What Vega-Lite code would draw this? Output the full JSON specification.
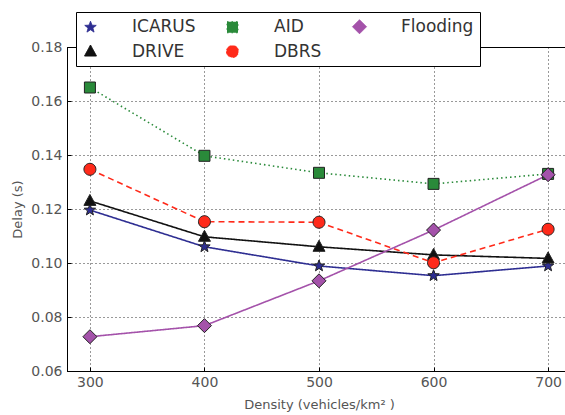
{
  "$schema": "https://vega.github.io/schema/vega-lite/v6.json",
  "width": 504,
  "height": 324,
  "autosize": {"type": "none"},
  "padding": {"left": 67, "top": 47, "right": 0, "bottom": 44},
  "background": "white",
  "config": {
    "font": "DejaVu Sans",
    "view": {"stroke": "#000", "strokeWidth": 1},
    "axis": {
      "labelFont": "DejaVu Sans", "labelFontSize": 14, "labelColor": "#555",
      "titleFont": "DejaVu Sans", "titleFontSize": 13, "titleColor": "#555", "titleFontWeight": "normal",
      "domainColor": "#000", "tickColor": "#000", "tickSize": -4,
      "grid": true, "gridColor": "#000", "gridDash": [1, 3], "gridOpacity": 0.8, "gridWidth": 1
    }
  },
  "data": {"values": [
    {"density": 300, "delay": 0.1196, "series": "ICARUS"},
    {"density": 400, "delay": 0.1060, "series": "ICARUS"},
    {"density": 500, "delay": 0.0989, "series": "ICARUS"},
    {"density": 600, "delay": 0.0953, "series": "ICARUS"},
    {"density": 700, "delay": 0.0989, "series": "ICARUS"},
    {"density": 300, "delay": 0.1230, "series": "DRIVE"},
    {"density": 400, "delay": 0.1097, "series": "DRIVE"},
    {"density": 500, "delay": 0.1060, "series": "DRIVE"},
    {"density": 600, "delay": 0.1030, "series": "DRIVE"},
    {"density": 700, "delay": 0.1017, "series": "DRIVE"},
    {"density": 300, "delay": 0.1650, "series": "AID"},
    {"density": 400, "delay": 0.1397, "series": "AID"},
    {"density": 500, "delay": 0.1334, "series": "AID"},
    {"density": 600, "delay": 0.1293, "series": "AID"},
    {"density": 700, "delay": 0.1330, "series": "AID"},
    {"density": 300, "delay": 0.1347, "series": "DBRS"},
    {"density": 400, "delay": 0.1153, "series": "DBRS"},
    {"density": 500, "delay": 0.1151, "series": "DBRS"},
    {"density": 600, "delay": 0.1001, "series": "DBRS"},
    {"density": 700, "delay": 0.1125, "series": "DBRS"},
    {"density": 300, "delay": 0.0727, "series": "Flooding"},
    {"density": 400, "delay": 0.0768, "series": "Flooding"},
    {"density": 500, "delay": 0.0934, "series": "Flooding"},
    {"density": 600, "delay": 0.1122, "series": "Flooding"},
    {"density": 700, "delay": 0.1327, "series": "Flooding"}
  ]},
  "encoding": {
    "x": {"field": "density", "type": "quantitative",
      "scale": {"domain": [280, 720], "nice": false, "zero": false},
      "axis": {"title": "Density (vehicles/km² )", "values": [300, 400, 500, 600, 700], "labelPadding": 8, "titlePadding": 9}},
    "y": {"field": "delay", "type": "quantitative",
      "scale": {"domain": [0.06, 0.18], "nice": false, "zero": false},
      "axis": {"title": "Delay (s)", "values": [0.06, 0.08, 0.10, 0.12, 0.14, 0.16, 0.18], "format": ".2f", "labelPadding": 9, "titlePadding": 6}}
  },
  "layer": [
    {
      "mark": {"type": "line", "strokeWidth": 1.6},
      "encoding": {
        "color": {"field": "series", "type": "nominal",
          "scale": {"domain": ["ICARUS", "AID", "Flooding", "DRIVE", "DBRS"], "range": ["#2e2e92", "#2a8a3a", "#a452aa", "#111111", "#ff2a1a"]}},
        "strokeDash": {"field": "series", "type": "nominal",
          "scale": {"domain": ["ICARUS", "AID", "Flooding", "DRIVE", "DBRS"], "range": [[1, 0], [1.5, 3], [1, 0], [1, 0], [6, 4]]},
          "legend": null}
      }
    },
    {
      "mark": {"type": "point", "filled": true, "opacity": 1, "stroke": "#222", "strokeWidth": 1, "size": 100},
      "encoding": {
        "color": {"field": "series", "type": "nominal",
          "scale": {"domain": ["ICARUS", "AID", "Flooding", "DRIVE", "DBRS"], "range": ["#2e2e92", "#2a8a3a", "#a452aa", "#111111", "#ff2a1a"]},
          "legend": {
            "title": null, "orient": "none", "legendX": 9, "legendY": -35,
            "direction": "horizontal", "columns": 3, "columnPadding": 28, "rowPadding": 6,
            "fillColor": "white", "strokeColor": "#000", "padding": 6, "cornerRadius": 0,
            "symbolSize": 100, "symbolStrokeWidth": 1,
            "labelFont": "DejaVu Sans", "labelFontSize": 17, "labelColor": "#333", "labelOffset": 33,
            "encode": {
              "symbols": {"update": {
                "fill": {"signal": "scale('color', datum.value)"},
                "stroke": {"value": "#222"},
                "opacity": {"value": 1}
              }}
            }
          }},
        "shape": {"field": "series", "type": "nominal",
          "scale": {"domain": ["ICARUS", "AID", "Flooding", "DRIVE", "DBRS"], "range": [
            "M0,-1.2L0.294,-0.405L1.141,-0.371L0.476,0.155L0.705,0.971L0,0.5L-0.705,0.971L-0.476,0.155L-1.141,-0.371L-0.294,-0.405Z",
            "M-1.1,-1.1H1.1V1.1H-1.1Z",
            "M0,-1.4L1.4,0L0,1.4L-1.4,0Z",
            "M0,-1.3L1.2,0.9L-1.2,0.9Z",
            "M-1.2,0A1.2,1.2,0,1,0,1.2,0A1.2,1.2,0,1,0,-1.2,0Z"]},
          "legend": null}
      }
    }
  ]
}
